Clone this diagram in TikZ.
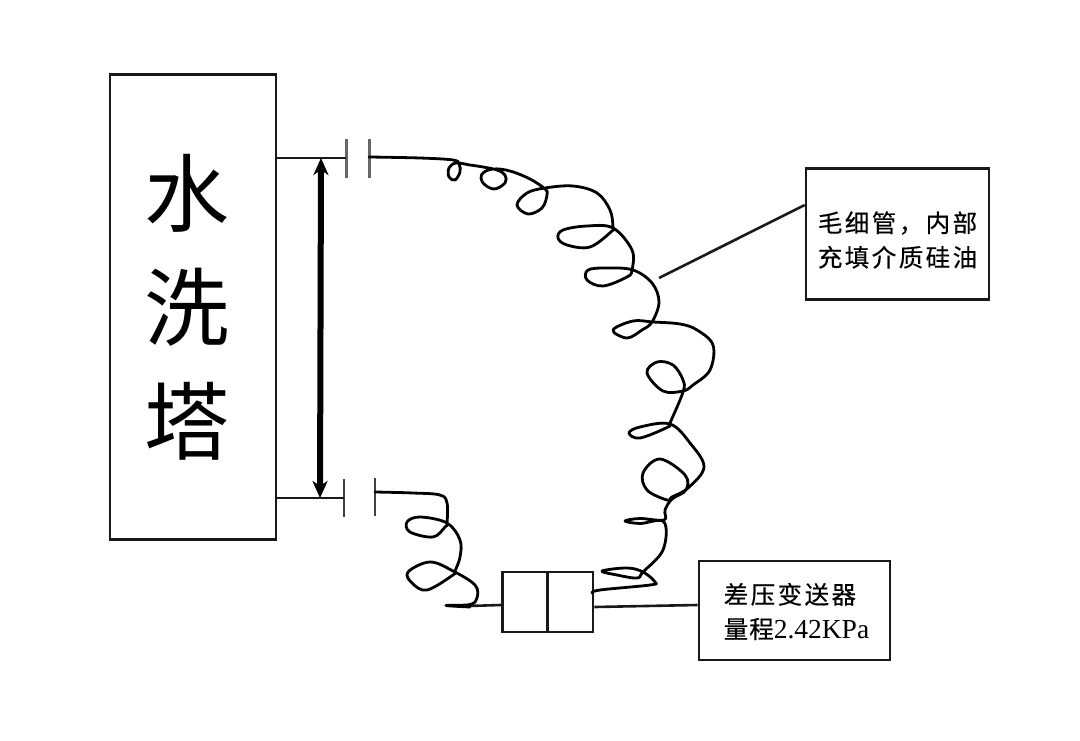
\documentclass[tikz,border=0pt]{standalone}
\usepackage{fontspec}
\setmainfont{Liberation Serif}
\newfontfamily\cjk{Noto Sans CJK SC}
\newfontfamily\cjkwide[LetterSpace=10, FakeBold=0.4]{Noto Sans CJK SC}
\usetikzlibrary{arrows.meta, positioning}

\begin{document}
\begin{tikzpicture}[
    x=1pt, y=-1pt,
    box/.style={draw, line width=2.6pt, black!90, text=black, inner sep=0pt, align=center},
    tag/.style={align=left, inner sep=0pt, font=\cjkwide\fontsize{24.5}{34.5}\selectfont},
    flange/.style={line width=3pt, black!60},
    wire/.style={line width=2.8pt, line join=round, line cap=round},
    leader/.style={line width=2.6pt, black!90},
    arrow/.style={{Stealth[length=17pt, width=15pt, inset=5pt]}-{Stealth[length=17pt, width=15pt, inset=5pt]}, line width=6pt}
]
    \useasboundingbox (0,0) rectangle (1080,741);

    \node[box, minimum width=166pt, minimum height=465pt,
        label={[xshift=-6pt, align=center, font=\cjk\fontsize{85}{114}\selectfont]center:水\\洗\\塔}] (tower) at (193,307) {};
    \node[box, minimum width=183pt, minimum height=131pt,
        label={[tag, yshift=-6pt]center:毛细管，内部\\充填介质硅油}] (note) at (897.5,234) {};
    \node[box, minimum width=191pt, minimum height=99pt,
        label={[tag, xshift=2pt, yshift=-1pt]center:差压变送器\\量{\hspace{1pt}}程{\rmfamily\fontsize{27.5}{30}\selectfont 2.42KPa}}] (range) at (794.5,610.5) {};
    \node[box, minimum width=45pt, minimum height=60pt] (cellL) at (525,602) {};
    \node[box, minimum width=45pt, minimum height=60pt, right=-2pt of cellL] (cellR) {};

    % flange pairs on the tower
    \coordinate (topA) at (346,158);
    \coordinate (topB) at (369,158);
    \coordinate (lowA) at (344,498);
    \coordinate (lowB) at (375,497);
    \coordinate (tapTop) at (321,158);
    \coordinate (tapLow) at (320,498);
    \coordinate (leaderEnd) at (659,278);
    \coordinate (topWire) at (369,157);
    \coordinate (lowWire) at (375,492);
    \coordinate (wireEnd) at (592,593);

    \foreach \c in {topA, topB}
        \draw[flange] ([yshift=19pt]\c) -- ([yshift=-20pt]\c);
    \foreach \c in {lowA, lowB}
        \draw[flange, line width=2.4pt, black!75] ([yshift=19pt]\c) -- ([yshift=-19pt]\c);

    \draw[leader] (tower.east |- topA) -- (topA);
    \draw[leader] (tower.east |- lowA) -- (lowA);
    \draw[arrow] (tapTop) -- (tapLow);

    \draw[leader] (leaderEnd) -- (note.west |- 0,205);
    \draw[leader] (cellR.east |- 0,607) -- (range.west |- 0,605);
    \draw[leader] (cellL.west |- 0,605) -- (468,606);

    % capillary, upper run
    \draw[wire] plot[smooth, tension=0.6] coordinates {
        (topWire) (420,158) (453,160) (459,164) (460,172) (455,180) (449,177) (449,168) (456,163) (470,165)
        (483,167) (497,170) (505,175) (505,183) (494,189) (483,183) (482,174) (493,169) (510,171) (530,179) (545,189)
        (547,195) (542,208) (528,214) (517,205) (527,193) (545,188)
        (573,186) (597,193) (610,210) (613,227)
        (612,231) (590,247) (567,245) (558,238) (563,230) (587,226) (613,228) (632,250) (632,270)
        (627,277) (603,286) (587,280) (588,270) (607,268) (633,270) (652,283) (659,302) (652,322)
        (642,330) (627,338) (613,330) (633,321) (653,322) (680,324) (697,330) (713,345) (710,370)
        (693,385) (683,391) (663,391) (647,373) (657,362) (673,365) (683,380) (683,392) (670,423)
        (668,427) (640,438) (629,433) (640,427) (670,424) (690,443) (704,467) (688,488) (672,497) (667,500)
        (647,490) (643,473) (660,459) (685,475) (686,490) (672,499) (665,510) (664,520)
        (640,518.5) (625,521) (640,523.5) (664,522) (663,550) (643,572)
        (637,578) (617,575) (602,571) (627,568) (643,572) (655,582) (650,585) (600,590) (wireEnd)
    };

    % capillary, lower run
    \draw[wire] plot[smooth, tension=0.6] coordinates {
        (lowWire) (413,493) (440,495) (447,503) (447,523)
        (445,527) (433,537) (410,532) (407,522) (420,517) (447,523)
        (460,540) (460,557) (455,571)
        (453,575) (427,590) (412,583) (408,572) (430,562) (453,571)
        (475,585) (477,598) (470,604.5) (446,605.5) (470,607)
    };
\end{tikzpicture}
\end{document}
